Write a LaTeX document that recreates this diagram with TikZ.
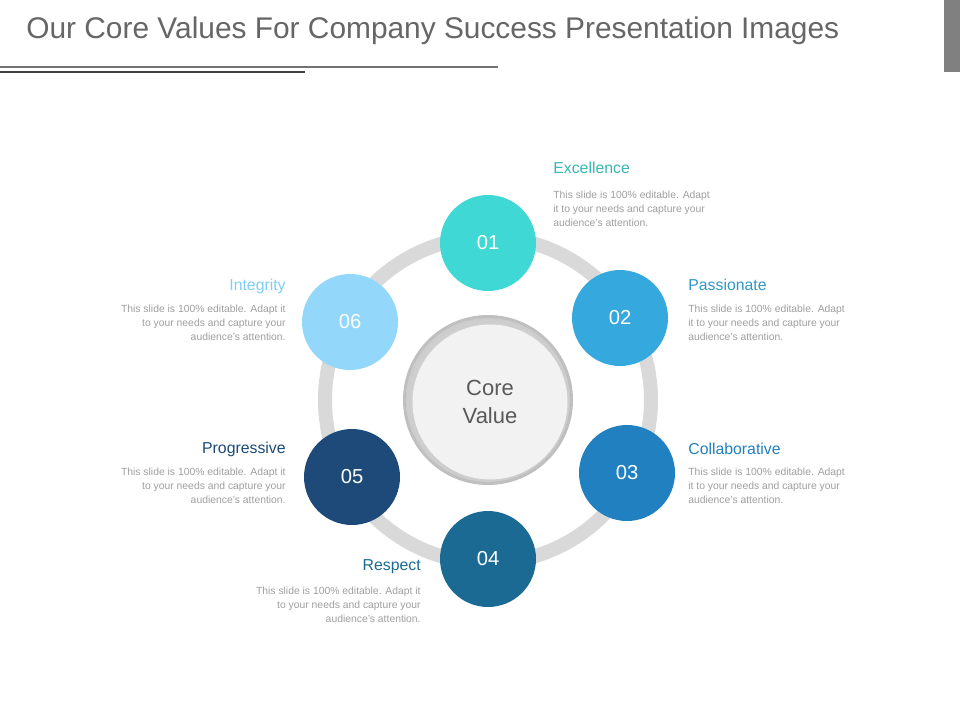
\documentclass[tikz,border=0pt]{standalone}
\usepackage{fontspec}
\setmainfont{Liberation Sans}
\begin{document}
\begin{tikzpicture}[x=0.02cm,y=-0.02cm,
  num/.style={circle,minimum size=1.92cm,inner sep=0pt,text=white,font=\fontsize{11.5}{12}\selectfont},
  head/.style={font=\fontsize{9}{10}\selectfont,inner sep=0pt},
  body/.style={font=\fontsize{5.9}{7.9}\selectfont,text=gray!75,inner sep=0pt},
  ring/.style={draw=black!15,line width=0.28cm}]
\definecolor{c1}{RGB}{64,216,212}\definecolor{c2}{RGB}{53,168,222}
\definecolor{c3}{RGB}{33,128,192}\definecolor{c4}{RGB}{27,106,148}
\definecolor{c5}{RGB}{29,74,120}\definecolor{c6}{RGB}{147,216,250}
\useasboundingbox (0,0) rectangle (960,720);
\fill[white] (0,0) rectangle (960,720);
\node[anchor=west,font=\fontsize{17}{18}\selectfont,text=black!60,inner sep=0pt] (title) at (26,31) {Our Core Values For Company Success Presentation Images};
\draw[black!55,line width=0.6pt] (0,67) coordinate (l1) -- (498,67) coordinate (l2);
\draw[black!75,line width=1.6pt] (0,72) coordinate (l3) -- (305,72) coordinate (l4);
\fill[black!50] (944,0) rectangle (960,72);
\draw[ring] (488,400) circle (163);
\fill[black!25] (488,400) circle (85);
\shade[inner color=white,outer color=black!20] (488,400) circle (82);
\node[circle,fill=black!5,minimum size=3.1cm,inner sep=0pt,align=center,text=black!65,font=\fontsize{12.5}{16}\selectfont] (core) at (490,402) {Core\\Value};
\node[num,fill=c1] (n1) at (488,243) {01};
\node[num,fill=c2] (n2) at (620,318) {02};
\node[num,fill=c3] (n3) at (627,473) {03};
\node[num,fill=c4] (n4) at (488,559) {04};
\node[num,fill=c5] (n5) at (352,477) {05};
\node[num,fill=c6] (n6) at (350,322) {06};
\node[head,anchor=west,text=c1!85!black] (h1) at (553,168) {Excellence};
\node[body,anchor=north west,align=left] (b1) at (553,191) {This slide is 100\% editable. Adapt\\it to your needs and capture your\\audience’s attention.};
\node[head,anchor=west,text=c2!90!black] (h2) at (688,285) {Passionate};
\node[body,anchor=north west,align=left] (b2) at (688,305) {This slide is 100\% editable. Adapt\\it to your needs and capture your\\audience’s attention.};
\node[head,anchor=west,text=c3] (h3) at (688,449) {Collaborative};
\node[body,anchor=north west,align=left] (b3) at (688,468) {This slide is 100\% editable. Adapt\\it to your needs and capture your\\audience’s attention.};
\node[head,anchor=east,text=c4] (h4) at (421,567) {Respect};
\node[body,anchor=north east,align=right] (b4) at (421,587) {This slide is 100\% editable. Adapt it\\to your needs and capture your\\audience’s attention.};
\node[head,anchor=east,text=c5] (h5) at (286,449) {Progressive};
\node[body,anchor=north east,align=right] (b5) at (286,468) {This slide is 100\% editable. Adapt it\\to your needs and capture your\\audience’s attention.};
\node[head,anchor=east,text=c6!80!c2] (h6) at (286,286) {Integrity};
\node[body,anchor=north east,align=right] (b6) at (286,305) {This slide is 100\% editable. Adapt it\\to your needs and capture your\\audience’s attention.};
\end{tikzpicture}
\end{document}
